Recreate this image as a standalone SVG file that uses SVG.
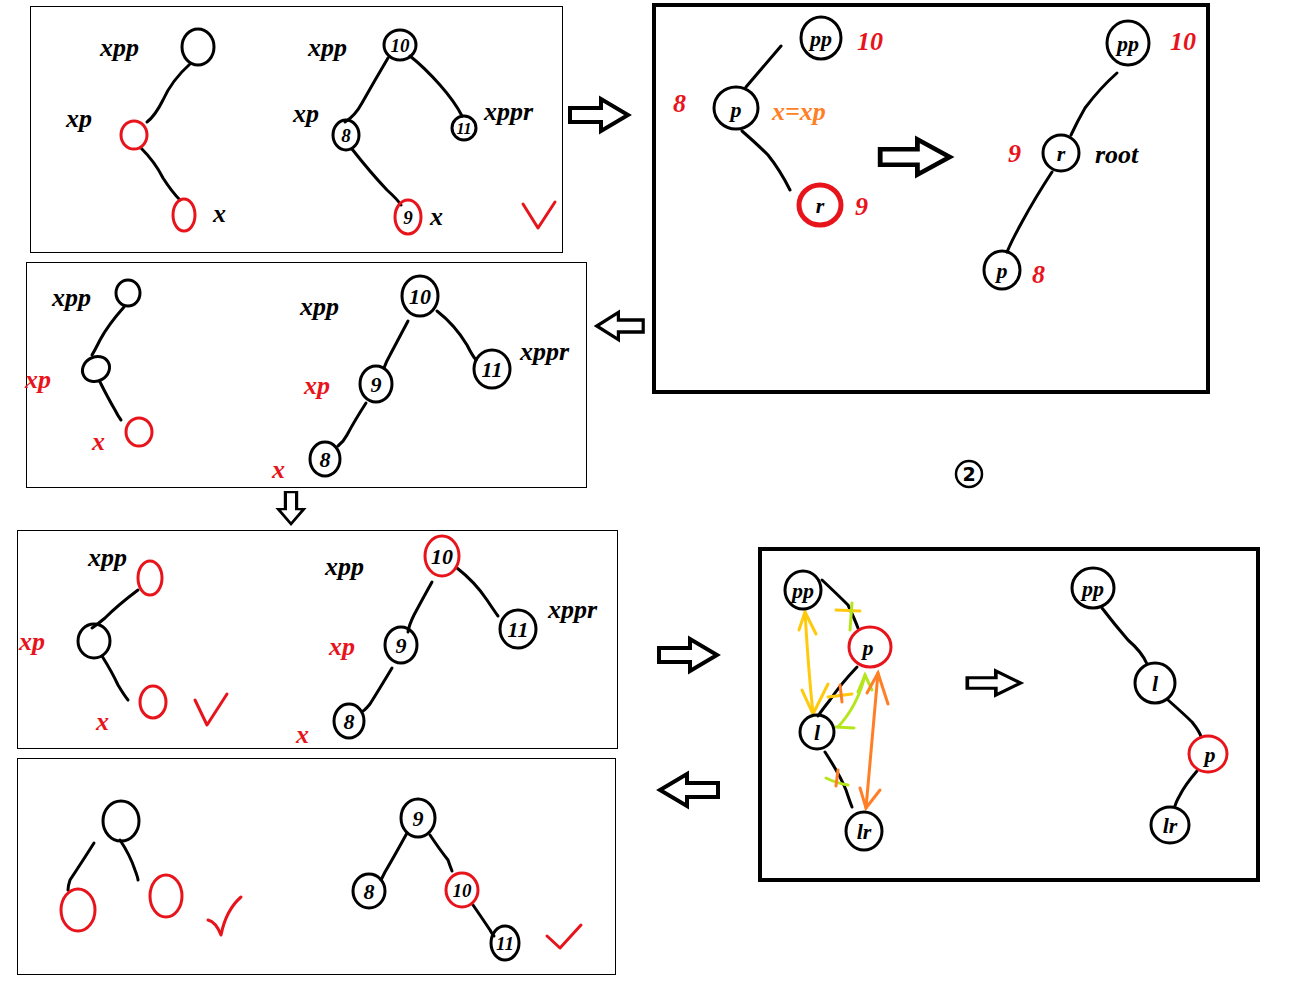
<svg xmlns="http://www.w3.org/2000/svg" width="1289" height="989" viewBox="0 0 1289 989">
<style>
.panel{fill:none;stroke:#000;stroke-width:1}
.bold{fill:none;stroke:#000;stroke-width:4}
.n{fill:none;stroke:#000;stroke-width:3}
.nr{fill:none;stroke:#e8141c;stroke-width:3}
.nrt{fill:none;stroke:#e8141c;stroke-width:5}
.e{fill:none;stroke:#000;stroke-width:3;stroke-linecap:round;stroke-linejoin:round}
.t{font-family:"Liberation Serif",serif;font-style:italic;font-weight:bold;fill:#000}
.tr{font-family:"Liberation Serif",serif;font-style:italic;font-weight:bold;fill:#e8141c}
.to{font-family:"Liberation Serif",serif;font-style:italic;font-weight:bold;fill:#ff7f27}
.lbl{font-size:26px}
.in{font-size:22px;text-anchor:middle}
.sm{font-size:19px;text-anchor:middle}
.chk{fill:none;stroke:#e8141c;stroke-width:3;stroke-linecap:round;stroke-linejoin:round}
.harrow{fill:#fff;stroke:#000;stroke-width:4;stroke-linejoin:miter}
.ya{fill:none;stroke:#ffc90e;stroke-width:3;stroke-linecap:round}
.ga{fill:none;stroke:#b5e61d;stroke-width:3;stroke-linecap:round}
.oa{fill:none;stroke:#ff7f27;stroke-width:3;stroke-linecap:round}
.ci{font-family:"DejaVu Sans",sans-serif;font-weight:bold;text-anchor:middle}
</style>
<defs>
<path id="ra" d="M-29,-7 L2,-7 L2,-16 L29,0 L2,16 L2,7 L-29,7 Z"/>
</defs>
<rect width="1289" height="989" fill="#fff"/>

<!-- panels -->
<g id="panels">
<rect class="panel" x="30.5" y="6.5" width="532" height="246"/>
<rect class="bold" x="654" y="5" width="554" height="387"/>
<rect class="panel" x="26.5" y="262.5" width="560" height="225"/>
<rect class="panel" x="17.5" y="530.5" width="600" height="218"/>
<rect class="panel" x="17.5" y="758.5" width="598" height="216"/>
<rect class="bold" x="760" y="549" width="498" height="331"/>
</g>

<!-- connectors -->
<g id="connectors">
<!-- panel 1 -->
<path class="e" d="M190,64 Q172,80 163,100 Q155,116 147,122"/>
<path class="e" d="M141,148 Q155,162 163,178 Q172,192 180,200"/>
<path class="e" d="M388,58 Q375,80 362,103 Q355,116 345,122"/>
<path class="e" d="M410,56 Q425,68 440,85 Q455,102 462,116"/>
<path class="e" d="M352,149 Q370,172 387,190 Q398,200 401,205"/>
<!-- panel 2 -->
<path class="e" d="M781,46 L746,87"/>
<path class="e" d="M742,131 Q758,145 768,155 Q780,170 790,190"/>
<path class="e" d="M1117,73 Q1100,88 1085,108 Q1077,122 1071,135"/>
<path class="e" d="M1052,172 Q1035,198 1022,222 Q1012,240 1007,252"/>
<!-- panel 3 -->
<path class="e" d="M124,307 Q108,325 100,340 Q95,350 92,355"/>
<path class="e" d="M100,382 Q108,398 115,410 Q118,416 121,420"/>
<path class="e" d="M408,321 Q398,340 390,355 Q386,362 384,368"/>
<path class="e" d="M437,311 Q455,325 467,345 Q472,355 476,360"/>
<path class="e" d="M366,403 Q355,420 347,435 Q344,441 338,446"/>
<!-- panel 4 -->
<path class="e" d="M138,590 Q118,605 105,618 Q98,624 92,628"/>
<path class="e" d="M102,656 Q112,672 118,685 Q124,695 128,700"/>
<path class="e" d="M432,582 Q422,600 414,615 Q409,625 408,632"/>
<path class="e" d="M457,568 Q475,582 487,600 Q495,612 498,616"/>
<path class="e" d="M392,668 Q380,688 370,704 Q365,710 363,711"/>
<!-- panel 5 -->
<path class="e" d="M94,843 Q80,865 70,880 Q68,886 68,890"/>
<path class="e" d="M120,840 Q130,855 135,870 Q138,878 138,880"/>
<path class="e" d="M407,833 Q395,855 385,872 Q383,876 381,880"/>
<path class="e" d="M430,835 Q440,850 448,860 Q450,866 452,871"/>
<path class="e" d="M473,905 Q482,918 490,930 Q492,934 494,936"/>
<!-- panel 6 -->
<path class="e" d="M822,580 Q838,595 848,605 Q855,620 858,628"/>
<path class="e" d="M857,667 Q840,685 830,700 Q822,710 818,716"/>
<path class="e" d="M825,752 Q840,775 846,790 Q850,802 852,807"/>
<path class="e" d="M1102,608 Q1115,625 1128,640 Q1142,652 1147,664"/>
<path class="e" d="M1168,700 Q1185,715 1192,722 Q1200,732 1201,737"/>
<path class="e" d="M1197,771 Q1185,785 1180,795 Q1176,802 1175,806"/>
<!-- coloured annotation arrows -->
<path class="ya" d="M805,612 Q808,665 813,714"/>
<path class="ya" d="M799,630 L805,612 L816,634"/>
<path class="ya" d="M802,690 L813,714 L828,684"/>
<path class="ya" d="M836,610 L860,611"/>
<path class="ga" d="M852,603 L850,630"/>
<path class="ga" d="M865,675 Q858,705 838,727"/>
<path class="ga" d="M858,692 L865,675 L872,690"/>
<path class="ga" d="M836,727 L854,728"/>
<path class="ya" d="M828,697 L852,694"/>
<path class="oa" d="M840,685 L842,702"/>
<path class="oa" d="M878,673 Q872,740 866,808"/>
<path class="oa" d="M867,693 L878,673 L888,704"/>
<path class="oa" d="M860,788 L866,808 L880,790"/>
<path class="ga" d="M826,778 Q836,783 848,785"/>
<path class="oa" d="M838,770 L836,786"/>
</g>

<!-- hollow arrows -->
<g id="arrows">
<use href="#ra" class="harrow" transform="translate(599,115)"/>
<use href="#ra" class="harrow" transform="translate(915,157) scale(1.2,1.1)"/>
<use href="#ra" class="harrow" transform="translate(620,326) rotate(180) scale(0.8,0.85)"/>
<use href="#ra" class="harrow" transform="translate(291,508) rotate(90) scale(0.55,0.8)"/>
<use href="#ra" class="harrow" transform="translate(688,655)"/>
<use href="#ra" class="harrow" transform="translate(689,790) rotate(180)"/>
<use href="#ra" class="harrow" transform="translate(994,683) scale(0.92,0.75)"/>
</g>

<!-- panel 1 nodes -->
<g id="p1-xpp"><ellipse class="n" cx="198" cy="47" rx="16" ry="18"/><text class="t lbl" x="100" y="56">xpp</text></g>
<g id="p1-xp"><ellipse class="nr" cx="134" cy="135" rx="13" ry="14"/><text class="t lbl" x="66" y="127">xp</text></g>
<g id="p1-x"><ellipse class="nr" cx="184" cy="215" rx="11" ry="16"/><text class="t lbl" x="213" y="222">x</text></g>
<g id="p1-10"><ellipse class="n" cx="400" cy="45" rx="16" ry="15"/><text class="t sm" x="400" y="52">10</text><text class="t lbl" x="308" y="56">xpp</text></g>
<g id="p1-8"><ellipse class="n" cx="346" cy="135" rx="13" ry="15"/><text class="t sm" x="346" y="142">8</text><text class="t lbl" x="293" y="122">xp</text></g>
<g id="p1-11"><ellipse class="n" cx="464" cy="128" rx="12" ry="12"/><text class="t" font-size="16" text-anchor="middle" x="464" y="134">11</text><text class="t lbl" x="484" y="120">xppr</text></g>
<g id="p1-9"><ellipse class="nr" cx="408" cy="217" rx="13" ry="17"/><text class="t sm" x="408" y="224">9</text><text class="t lbl" x="430" y="225">x</text></g>
<path class="chk" d="M523,204 L538,228 L555,202"/>

<!-- panel 2 nodes -->
<g id="p2-pp"><ellipse class="n" cx="821" cy="38" rx="20" ry="21"/><text class="t in" x="821" y="46">pp</text><text class="tr lbl" x="857" y="50">10</text></g>
<g id="p2-p"><ellipse class="n" cx="736" cy="108" rx="22" ry="21"/><text class="t in" x="736" y="117">p</text><text class="tr lbl" x="673" y="112">8</text><text class="to lbl" x="772" y="120">x=xp</text></g>
<g id="p2-r"><ellipse class="nrt" cx="820" cy="205" rx="21" ry="20"/><text class="t in" x="820" y="213">r</text><text class="tr lbl" x="855" y="215">9</text></g>
<g id="p2-pp2"><ellipse class="n" cx="1128" cy="43" rx="21" ry="22"/><text class="t in" x="1128" y="51">pp</text><text class="tr lbl" x="1170" y="50">10</text></g>
<g id="p2-r2"><ellipse class="n" cx="1061" cy="153" rx="18" ry="18"/><text class="t in" x="1061" y="161">r</text><text class="tr lbl" x="1008" y="162">9</text><text class="t lbl" x="1095" y="163">root</text></g>
<g id="p2-p2"><ellipse class="n" cx="1002" cy="270" rx="18" ry="19"/><text class="t in" x="1002" y="278">p</text><text class="tr lbl" x="1032" y="283">8</text></g>

<!-- panel 3 nodes -->
<g id="p3-xpp"><ellipse class="n" cx="128" cy="293" rx="12" ry="13"/><text class="t lbl" x="52" y="306">xpp</text></g>
<g id="p3-xp"><ellipse class="n" cx="96" cy="369" rx="14" ry="12" transform="rotate(-30 96 369)"/><text class="tr lbl" x="25" y="388">xp</text></g>
<g id="p3-x"><ellipse class="nr" cx="139" cy="432" rx="13" ry="14"/><text class="tr lbl" x="92" y="450">x</text></g>
<g id="p3-10"><ellipse class="n" cx="420" cy="296" rx="18" ry="20"/><text class="t in" x="420" y="304">10</text><text class="t lbl" x="300" y="315">xpp</text></g>
<g id="p3-9"><ellipse class="n" cx="376" cy="384" rx="16" ry="18"/><text class="t in" x="376" y="392">9</text><text class="tr lbl" x="304" y="394">xp</text></g>
<g id="p3-11"><ellipse class="n" cx="492" cy="369" rx="18" ry="19"/><text class="t in" x="492" y="377">11</text><text class="t lbl" x="520" y="360">xppr</text></g>
<g id="p3-8"><ellipse class="n" cx="325" cy="459" rx="15" ry="17"/><text class="t in" x="325" y="467">8</text><text class="tr lbl" x="272" y="478">x</text></g>

<!-- panel 4 nodes -->
<g id="p4-xpp"><ellipse class="nr" cx="150" cy="578" rx="12" ry="17"/><text class="t lbl" x="88" y="566">xpp</text></g>
<g id="p4-xp"><ellipse class="n" cx="94" cy="641" rx="16" ry="17"/><text class="tr lbl" x="19" y="650">xp</text></g>
<g id="p4-x"><ellipse class="nr" cx="153" cy="702" rx="13" ry="16"/><text class="tr lbl" x="96" y="730">x</text></g>
<path class="chk" d="M195,700 L207,725 L227,694"/>
<g id="p4-10"><ellipse class="nr" cx="442" cy="556" rx="17" ry="20"/><text class="t in" x="442" y="564">10</text><text class="t lbl" x="325" y="575">xpp</text></g>
<g id="p4-9"><ellipse class="n" cx="401" cy="645" rx="16" ry="18"/><text class="t in" x="401" y="653">9</text><text class="tr lbl" x="329" y="655">xp</text></g>
<g id="p4-11"><ellipse class="n" cx="518" cy="629" rx="18" ry="19"/><text class="t in" x="518" y="637">11</text><text class="t lbl" x="548" y="618">xppr</text></g>
<g id="p4-8"><ellipse class="n" cx="349" cy="721" rx="15" ry="17"/><text class="t in" x="349" y="729">8</text><text class="tr lbl" x="296" y="743">x</text></g>

<!-- panel 5 nodes -->
<g id="p5-root"><ellipse class="n" cx="121" cy="821" rx="18" ry="20"/></g>
<g id="p5-left"><ellipse class="nr" cx="78" cy="910" rx="17" ry="21"/></g>
<g id="p5-right"><ellipse class="nr" cx="166" cy="896" rx="16" ry="21"/></g>
<path class="chk" d="M208,920 Q216,922 221,935 Q226,910 241,897"/>
<g id="p5-9"><ellipse class="n" cx="418" cy="818" rx="17" ry="19"/><text class="t in" x="418" y="826">9</text></g>
<g id="p5-8"><ellipse class="n" cx="369" cy="891" rx="16" ry="17"/><text class="t in" x="369" y="899">8</text></g>
<g id="p5-10"><ellipse class="nr" cx="462" cy="890" rx="16" ry="17"/><text class="t sm" x="462" y="897">10</text></g>
<g id="p5-11"><ellipse class="n" cx="505" cy="943" rx="14" ry="17"/><text class="t sm" x="505" y="950">11</text></g>
<path class="chk" d="M547,936 L560,948 L581,925"/>

<!-- circled 2 -->
<g id="marker-2"><circle cx="969" cy="474" r="13" fill="none" stroke="#000" stroke-width="2.5"/><text class="ci" x="969" y="481" font-size="19">2</text></g>

<!-- panel 6 nodes -->
<g id="p6-pp"><ellipse class="n" cx="803" cy="590" rx="18" ry="19"/><text class="t in" x="803" y="598">pp</text></g>
<g id="p6-p"><ellipse class="nr" cx="870" cy="647" rx="21" ry="20"/><text class="t in" x="868" y="655">p</text></g>
<g id="p6-l"><ellipse class="n" cx="817" cy="732" rx="17" ry="17"/><text class="t in" x="817" y="740">l</text></g>
<g id="p6-lr"><ellipse class="n" cx="864" cy="831" rx="18" ry="19"/><text class="t in" x="864" y="839">lr</text></g>
<g id="p6-pp2"><ellipse class="n" cx="1093" cy="588" rx="21" ry="20"/><text class="t in" x="1093" y="596">pp</text></g>
<g id="p6-l2"><ellipse class="n" cx="1155" cy="683" rx="20" ry="20"/><text class="t in" x="1155" y="691">l</text></g>
<g id="p6-p2"><ellipse class="nr" cx="1208" cy="754" rx="19" ry="18"/><text class="t in" x="1210" y="762">p</text></g>
<g id="p6-lr2"><ellipse class="n" cx="1170" cy="825" rx="19" ry="18"/><text class="t in" x="1170" y="833">lr</text></g>
</svg>
